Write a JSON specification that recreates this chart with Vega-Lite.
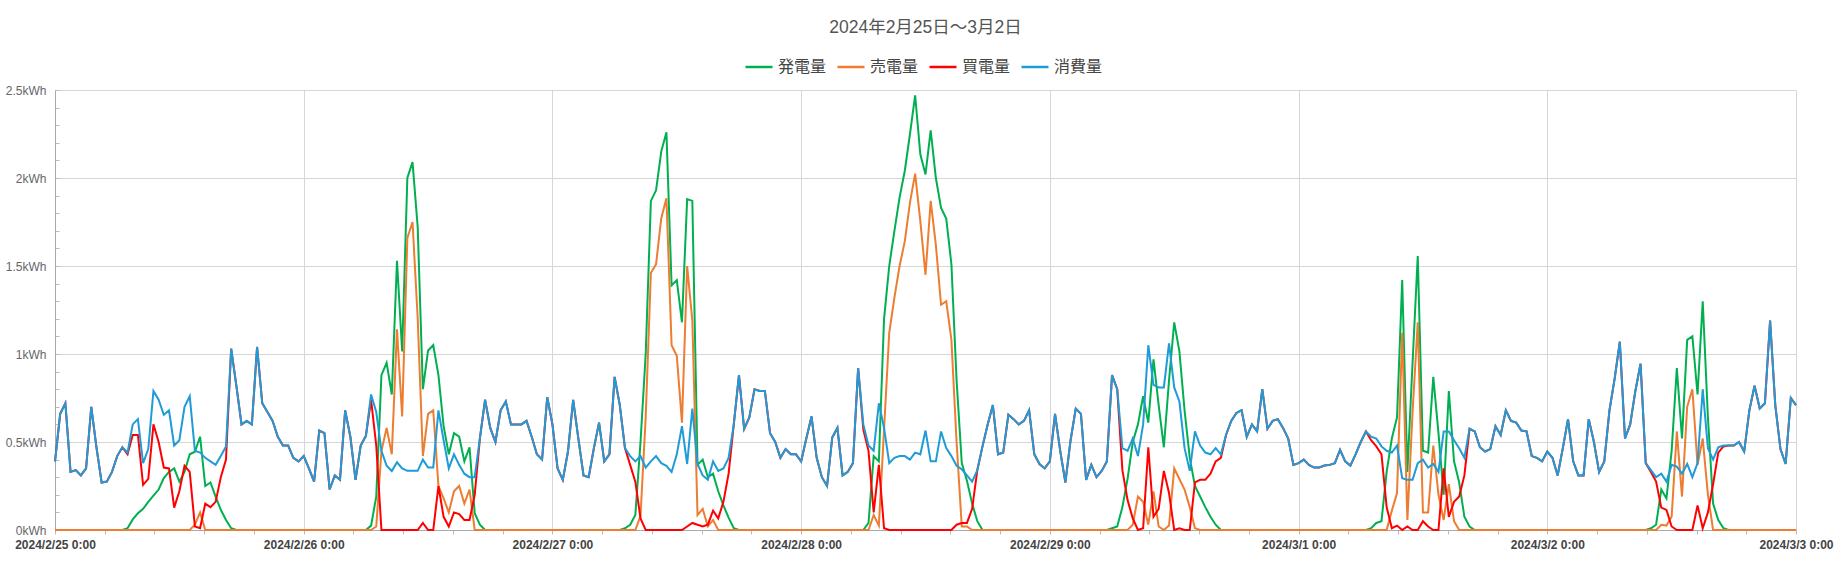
{
  "$schema": "https://vega.github.io/schema/vega-lite/v6.json",
  "width": 1741,
  "height": 440,
  "autosize": {"type": "none"},
  "padding": {"left": 55, "top": 90, "right": 48, "bottom": 31},
  "background": "white",
  "config": {
    "font": "Liberation Sans, Noto Sans CJK JP, sans-serif",
    "view": {"stroke": null}
  },
  "title": {
    "text": "2024年2月25日～3月2日",
    "anchor": "middle",
    "fontSize": 17.5,
    "fontWeight": "normal",
    "color": "#555555",
    "offset": 16
  },
  "data": {"values": [
    {"t":"2024-02-25T00:00","g":0,"s":0,"b":0.39,"c":0.39},
    {"t":"2024-02-25T00:30","g":0,"s":0,"b":0.66,"c":0.66},
    {"t":"2024-02-25T01:00","g":0,"s":0,"b":0.72,"c":0.72},
    {"t":"2024-02-25T01:30","g":0,"s":0,"b":0.33,"c":0.33},
    {"t":"2024-02-25T02:00","g":0,"s":0,"b":0.34,"c":0.34},
    {"t":"2024-02-25T02:30","g":0,"s":0,"b":0.31,"c":0.31},
    {"t":"2024-02-25T03:00","g":0,"s":0,"b":0.35,"c":0.35},
    {"t":"2024-02-25T03:30","g":0,"s":0,"b":0.70,"c":0.70},
    {"t":"2024-02-25T04:00","g":0,"s":0,"b":0.47,"c":0.47},
    {"t":"2024-02-25T04:30","g":0,"s":0,"b":0.27,"c":0.27},
    {"t":"2024-02-25T05:00","g":0,"s":0,"b":0.275,"c":0.275},
    {"t":"2024-02-25T05:30","g":0,"s":0,"b":0.33,"c":0.33},
    {"t":"2024-02-25T06:00","g":0,"s":0,"b":0.42,"c":0.42},
    {"t":"2024-02-25T06:30","g":0,"s":0,"b":0.47,"c":0.47},
    {"t":"2024-02-25T07:00","g":0.01,"s":0,"b":0.43,"c":0.44},
    {"t":"2024-02-25T07:30","g":0.06,"s":0,"b":0.54,"c":0.60},
    {"t":"2024-02-25T08:00","g":0.095,"s":0,"b":0.54,"c":0.63},
    {"t":"2024-02-25T08:30","g":0.12,"s":0,"b":0.256,"c":0.38},
    {"t":"2024-02-25T09:00","g":0.16,"s":0,"b":0.29,"c":0.46},
    {"t":"2024-02-25T09:30","g":0.195,"s":0,"b":0.60,"c":0.79},
    {"t":"2024-02-25T10:00","g":0.23,"s":0,"b":0.50,"c":0.74},
    {"t":"2024-02-25T10:30","g":0.295,"s":0,"b":0.355,"c":0.655},
    {"t":"2024-02-25T11:00","g":0.33,"s":0,"b":0.35,"c":0.68},
    {"t":"2024-02-25T11:30","g":0.35,"s":0,"b":0.127,"c":0.48},
    {"t":"2024-02-25T12:00","g":0.275,"s":0,"b":0.22,"c":0.51},
    {"t":"2024-02-25T12:30","g":0.33,"s":0,"b":0.365,"c":0.70},
    {"t":"2024-02-25T13:00","g":0.43,"s":0,"b":0.33,"c":0.76},
    {"t":"2024-02-25T13:30","g":0.445,"s":0.03,"b":0.02,"c":0.45},
    {"t":"2024-02-25T14:00","g":0.53,"s":0.10,"b":0.01,"c":0.44},
    {"t":"2024-02-25T14:30","g":0.25,"s":0,"b":0.15,"c":0.41},
    {"t":"2024-02-25T15:00","g":0.27,"s":0,"b":0.13,"c":0.39},
    {"t":"2024-02-25T15:30","g":0.19,"s":0,"b":0.16,"c":0.37},
    {"t":"2024-02-25T16:00","g":0.115,"s":0,"b":0.30,"c":0.42},
    {"t":"2024-02-25T16:30","g":0.057,"s":0,"b":0.40,"c":0.475},
    {"t":"2024-02-25T17:00","g":0.01,"s":0,"b":1.03,"c":1.03},
    {"t":"2024-02-25T17:30","g":0,"s":0,"b":0.82,"c":0.82},
    {"t":"2024-02-25T18:00","g":0,"s":0,"b":0.60,"c":0.60},
    {"t":"2024-02-25T18:30","g":0,"s":0,"b":0.62,"c":0.62},
    {"t":"2024-02-25T19:00","g":0,"s":0,"b":0.60,"c":0.60},
    {"t":"2024-02-25T19:30","g":0,"s":0,"b":1.04,"c":1.04},
    {"t":"2024-02-25T20:00","g":0,"s":0,"b":0.72,"c":0.72},
    {"t":"2024-02-25T20:30","g":0,"s":0,"b":0.67,"c":0.67},
    {"t":"2024-02-25T21:00","g":0,"s":0,"b":0.62,"c":0.62},
    {"t":"2024-02-25T21:30","g":0,"s":0,"b":0.53,"c":0.53},
    {"t":"2024-02-25T22:00","g":0,"s":0,"b":0.48,"c":0.48},
    {"t":"2024-02-25T22:30","g":0,"s":0,"b":0.48,"c":0.48},
    {"t":"2024-02-25T23:00","g":0,"s":0,"b":0.41,"c":0.41},
    {"t":"2024-02-25T23:30","g":0,"s":0,"b":0.39,"c":0.39},
    {"t":"2024-02-26T00:00","g":0,"s":0,"b":0.42,"c":0.42},
    {"t":"2024-02-26T00:30","g":0,"s":0,"b":0.35,"c":0.35},
    {"t":"2024-02-26T01:00","g":0,"s":0,"b":0.275,"c":0.275},
    {"t":"2024-02-26T01:30","g":0,"s":0,"b":0.565,"c":0.565},
    {"t":"2024-02-26T02:00","g":0,"s":0,"b":0.55,"c":0.55},
    {"t":"2024-02-26T02:30","g":0,"s":0,"b":0.23,"c":0.23},
    {"t":"2024-02-26T03:00","g":0,"s":0,"b":0.31,"c":0.31},
    {"t":"2024-02-26T03:30","g":0,"s":0,"b":0.285,"c":0.285},
    {"t":"2024-02-26T04:00","g":0,"s":0,"b":0.68,"c":0.68},
    {"t":"2024-02-26T04:30","g":0,"s":0,"b":0.53,"c":0.53},
    {"t":"2024-02-26T05:00","g":0,"s":0,"b":0.285,"c":0.285},
    {"t":"2024-02-26T05:30","g":0,"s":0,"b":0.48,"c":0.48},
    {"t":"2024-02-26T06:00","g":0,"s":0,"b":0.535,"c":0.535},
    {"t":"2024-02-26T06:30","g":0.025,"s":0,"b":0.74,"c":0.77},
    {"t":"2024-02-26T07:00","g":0.19,"s":0.02,"b":0.48,"c":0.67},
    {"t":"2024-02-26T07:30","g":0.88,"s":0.45,"b":0,"c":0.45},
    {"t":"2024-02-26T08:00","g":0.95,"s":0.58,"b":0,"c":0.365},
    {"t":"2024-02-26T08:30","g":0.77,"s":0.43,"b":0,"c":0.335},
    {"t":"2024-02-26T09:00","g":1.53,"s":1.14,"b":0,"c":0.385},
    {"t":"2024-02-26T09:30","g":1.015,"s":0.645,"b":0,"c":0.35},
    {"t":"2024-02-26T10:00","g":2.0,"s":1.66,"b":0,"c":0.336},
    {"t":"2024-02-26T10:30","g":2.09,"s":1.75,"b":0,"c":0.336},
    {"t":"2024-02-26T11:00","g":1.72,"s":1.2,"b":0,"c":0.336},
    {"t":"2024-02-26T11:30","g":0.80,"s":0.42,"b":0.04,"c":0.40},
    {"t":"2024-02-26T12:00","g":1.02,"s":0.66,"b":0,"c":0.355},
    {"t":"2024-02-26T12:30","g":1.05,"s":0.68,"b":0,"c":0.355},
    {"t":"2024-02-26T13:00","g":0.88,"s":0.25,"b":0.25,"c":0.68},
    {"t":"2024-02-26T13:30","g":0.59,"s":0.18,"b":0.075,"c":0.51},
    {"t":"2024-02-26T14:00","g":0.43,"s":0.10,"b":0.02,"c":0.35},
    {"t":"2024-02-26T14:30","g":0.55,"s":0.22,"b":0.10,"c":0.43},
    {"t":"2024-02-26T15:00","g":0.53,"s":0.25,"b":0.09,"c":0.37},
    {"t":"2024-02-26T15:30","g":0.39,"s":0.15,"b":0.057,"c":0.32},
    {"t":"2024-02-26T16:00","g":0.47,"s":0.23,"b":0.057,"c":0.30},
    {"t":"2024-02-26T16:30","g":0.095,"s":0,"b":0.2,"c":0.30},
    {"t":"2024-02-26T17:00","g":0.03,"s":0,"b":0.52,"c":0.52},
    {"t":"2024-02-26T17:30","g":0,"s":0,"b":0.74,"c":0.74},
    {"t":"2024-02-26T18:00","g":0,"s":0,"b":0.58,"c":0.58},
    {"t":"2024-02-26T18:30","g":0,"s":0,"b":0.50,"c":0.50},
    {"t":"2024-02-26T19:00","g":0,"s":0,"b":0.68,"c":0.68},
    {"t":"2024-02-26T19:30","g":0,"s":0,"b":0.73,"c":0.73},
    {"t":"2024-02-26T20:00","g":0,"s":0,"b":0.60,"c":0.60},
    {"t":"2024-02-26T20:30","g":0,"s":0,"b":0.60,"c":0.60},
    {"t":"2024-02-26T21:00","g":0,"s":0,"b":0.60,"c":0.60},
    {"t":"2024-02-26T21:30","g":0,"s":0,"b":0.62,"c":0.62},
    {"t":"2024-02-26T22:00","g":0,"s":0,"b":0.53,"c":0.53},
    {"t":"2024-02-26T22:30","g":0,"s":0,"b":0.43,"c":0.43},
    {"t":"2024-02-26T23:00","g":0,"s":0,"b":0.40,"c":0.40},
    {"t":"2024-02-26T23:30","g":0,"s":0,"b":0.755,"c":0.755},
    {"t":"2024-02-27T00:00","g":0,"s":0,"b":0.60,"c":0.60},
    {"t":"2024-02-27T00:30","g":0,"s":0,"b":0.35,"c":0.35},
    {"t":"2024-02-27T01:00","g":0,"s":0,"b":0.285,"c":0.285},
    {"t":"2024-02-27T01:30","g":0,"s":0,"b":0.446,"c":0.446},
    {"t":"2024-02-27T02:00","g":0,"s":0,"b":0.74,"c":0.74},
    {"t":"2024-02-27T02:30","g":0,"s":0,"b":0.52,"c":0.52},
    {"t":"2024-02-27T03:00","g":0,"s":0,"b":0.31,"c":0.31},
    {"t":"2024-02-27T03:30","g":0,"s":0,"b":0.30,"c":0.30},
    {"t":"2024-02-27T04:00","g":0,"s":0,"b":0.465,"c":0.465},
    {"t":"2024-02-27T04:30","g":0,"s":0,"b":0.61,"c":0.61},
    {"t":"2024-02-27T05:00","g":0,"s":0,"b":0.39,"c":0.39},
    {"t":"2024-02-27T05:30","g":0,"s":0,"b":0.43,"c":0.43},
    {"t":"2024-02-27T06:00","g":0,"s":0,"b":0.87,"c":0.87},
    {"t":"2024-02-27T06:30","g":0,"s":0,"b":0.71,"c":0.71},
    {"t":"2024-02-27T07:00","g":0.01,"s":0,"b":0.465,"c":0.465},
    {"t":"2024-02-27T07:30","g":0.03,"s":0,"b":0.37,"c":0.42},
    {"t":"2024-02-27T08:00","g":0.085,"s":0,"b":0.275,"c":0.39},
    {"t":"2024-02-27T08:30","g":0.5,"s":0.08,"b":0.066,"c":0.42},
    {"t":"2024-02-27T09:00","g":1.0,"s":0.64,"b":0,"c":0.355},
    {"t":"2024-02-27T09:30","g":1.87,"s":1.46,"b":0,"c":0.39},
    {"t":"2024-02-27T10:00","g":1.93,"s":1.51,"b":0,"c":0.42},
    {"t":"2024-02-27T10:30","g":2.15,"s":1.77,"b":0,"c":0.38},
    {"t":"2024-02-27T11:00","g":2.26,"s":1.885,"b":0,"c":0.365},
    {"t":"2024-02-27T11:30","g":1.39,"s":1.05,"b":0,"c":0.33},
    {"t":"2024-02-27T12:00","g":1.42,"s":0.99,"b":0,"c":0.43},
    {"t":"2024-02-27T12:30","g":1.18,"s":0.61,"b":0,"c":0.59},
    {"t":"2024-02-27T13:00","g":1.88,"s":1.5,"b":0.02,"c":0.375},
    {"t":"2024-02-27T13:30","g":1.87,"s":1.19,"b":0.04,"c":0.69},
    {"t":"2024-02-27T14:00","g":0.37,"s":0.085,"b":0.03,"c":0.375},
    {"t":"2024-02-27T14:30","g":0.40,"s":0.12,"b":0.02,"c":0.31},
    {"t":"2024-02-27T15:00","g":0.30,"s":0.02,"b":0.03,"c":0.285},
    {"t":"2024-02-27T15:30","g":0.32,"s":0.057,"b":0.11,"c":0.39},
    {"t":"2024-02-27T16:00","g":0.22,"s":0,"b":0.066,"c":0.336},
    {"t":"2024-02-27T16:30","g":0.14,"s":0,"b":0.16,"c":0.35},
    {"t":"2024-02-27T17:00","g":0.07,"s":0,"b":0.32,"c":0.41},
    {"t":"2024-02-27T17:30","g":0.01,"s":0,"b":0.60,"c":0.60},
    {"t":"2024-02-27T18:00","g":0,"s":0,"b":0.88,"c":0.88},
    {"t":"2024-02-27T18:30","g":0,"s":0,"b":0.575,"c":0.575},
    {"t":"2024-02-27T19:00","g":0,"s":0,"b":0.64,"c":0.64},
    {"t":"2024-02-27T19:30","g":0,"s":0,"b":0.80,"c":0.80},
    {"t":"2024-02-27T20:00","g":0,"s":0,"b":0.79,"c":0.79},
    {"t":"2024-02-27T20:30","g":0,"s":0,"b":0.79,"c":0.79},
    {"t":"2024-02-27T21:00","g":0,"s":0,"b":0.55,"c":0.55},
    {"t":"2024-02-27T21:30","g":0,"s":0,"b":0.50,"c":0.50},
    {"t":"2024-02-27T22:00","g":0,"s":0,"b":0.41,"c":0.41},
    {"t":"2024-02-27T22:30","g":0,"s":0,"b":0.46,"c":0.46},
    {"t":"2024-02-27T23:00","g":0,"s":0,"b":0.43,"c":0.43},
    {"t":"2024-02-27T23:30","g":0,"s":0,"b":0.43,"c":0.43},
    {"t":"2024-02-28T00:00","g":0,"s":0,"b":0.39,"c":0.39},
    {"t":"2024-02-28T00:30","g":0,"s":0,"b":0.52,"c":0.52},
    {"t":"2024-02-28T01:00","g":0,"s":0,"b":0.645,"c":0.645},
    {"t":"2024-02-28T01:30","g":0,"s":0,"b":0.41,"c":0.41},
    {"t":"2024-02-28T02:00","g":0,"s":0,"b":0.30,"c":0.30},
    {"t":"2024-02-28T02:30","g":0,"s":0,"b":0.25,"c":0.25},
    {"t":"2024-02-28T03:00","g":0,"s":0,"b":0.525,"c":0.525},
    {"t":"2024-02-28T03:30","g":0,"s":0,"b":0.58,"c":0.58},
    {"t":"2024-02-28T04:00","g":0,"s":0,"b":0.31,"c":0.31},
    {"t":"2024-02-28T04:30","g":0,"s":0,"b":0.33,"c":0.33},
    {"t":"2024-02-28T05:00","g":0,"s":0,"b":0.38,"c":0.38},
    {"t":"2024-02-28T05:30","g":0,"s":0,"b":0.92,"c":0.92},
    {"t":"2024-02-28T06:00","g":0,"s":0,"b":0.57,"c":0.60},
    {"t":"2024-02-28T06:30","g":0.04,"s":0,"b":0.45,"c":0.48},
    {"t":"2024-02-28T07:00","g":0.42,"s":0.085,"b":0.10,"c":0.45},
    {"t":"2024-02-28T07:30","g":0.39,"s":0.025,"b":0.37,"c":0.72},
    {"t":"2024-02-28T08:00","g":1.2,"s":0.57,"b":0.01,"c":0.58},
    {"t":"2024-02-28T08:30","g":1.5,"s":1.12,"b":0,"c":0.38},
    {"t":"2024-02-28T09:00","g":1.70,"s":1.32,"b":0,"c":0.41},
    {"t":"2024-02-28T09:30","g":1.89,"s":1.5,"b":0,"c":0.42},
    {"t":"2024-02-28T10:00","g":2.04,"s":1.64,"b":0,"c":0.42},
    {"t":"2024-02-28T10:30","g":2.25,"s":1.86,"b":0,"c":0.40},
    {"t":"2024-02-28T11:00","g":2.47,"s":2.025,"b":0,"c":0.44},
    {"t":"2024-02-28T11:30","g":2.135,"s":1.755,"b":0,"c":0.43},
    {"t":"2024-02-28T12:00","g":2.02,"s":1.45,"b":0,"c":0.565},
    {"t":"2024-02-28T12:30","g":2.27,"s":1.87,"b":0,"c":0.39},
    {"t":"2024-02-28T13:00","g":2.0,"s":1.62,"b":0,"c":0.39},
    {"t":"2024-02-28T13:30","g":1.83,"s":1.28,"b":0,"c":0.56},
    {"t":"2024-02-28T14:00","g":1.77,"s":1.30,"b":0,"c":0.465},
    {"t":"2024-02-28T14:30","g":1.51,"s":1.08,"b":0,"c":0.42},
    {"t":"2024-02-28T15:00","g":0.85,"s":0.5,"b":0.03,"c":0.365},
    {"t":"2024-02-28T15:30","g":0.38,"s":0.02,"b":0.04,"c":0.345},
    {"t":"2024-02-28T16:00","g":0.28,"s":0.02,"b":0.04,"c":0.31},
    {"t":"2024-02-28T16:30","g":0.15,"s":0,"b":0.12,"c":0.275},
    {"t":"2024-02-28T17:00","g":0.05,"s":0,"b":0.34,"c":0.34},
    {"t":"2024-02-28T17:30","g":0,"s":0,"b":0.475,"c":0.475},
    {"t":"2024-02-28T18:00","g":0,"s":0,"b":0.60,"c":0.60},
    {"t":"2024-02-28T18:30","g":0,"s":0,"b":0.71,"c":0.71},
    {"t":"2024-02-28T19:00","g":0,"s":0,"b":0.43,"c":0.43},
    {"t":"2024-02-28T19:30","g":0,"s":0,"b":0.44,"c":0.44},
    {"t":"2024-02-28T20:00","g":0,"s":0,"b":0.655,"c":0.655},
    {"t":"2024-02-28T20:30","g":0,"s":0,"b":0.63,"c":0.63},
    {"t":"2024-02-28T21:00","g":0,"s":0,"b":0.60,"c":0.60},
    {"t":"2024-02-28T21:30","g":0,"s":0,"b":0.62,"c":0.62},
    {"t":"2024-02-28T22:00","g":0,"s":0,"b":0.68,"c":0.68},
    {"t":"2024-02-28T22:30","g":0,"s":0,"b":0.43,"c":0.43},
    {"t":"2024-02-28T23:00","g":0,"s":0,"b":0.375,"c":0.375},
    {"t":"2024-02-28T23:30","g":0,"s":0,"b":0.35,"c":0.35},
    {"t":"2024-02-29T00:00","g":0,"s":0,"b":0.39,"c":0.39},
    {"t":"2024-02-29T00:30","g":0,"s":0,"b":0.66,"c":0.66},
    {"t":"2024-02-29T01:00","g":0,"s":0,"b":0.45,"c":0.45},
    {"t":"2024-02-29T01:30","g":0,"s":0,"b":0.27,"c":0.27},
    {"t":"2024-02-29T02:00","g":0,"s":0,"b":0.51,"c":0.51},
    {"t":"2024-02-29T02:30","g":0,"s":0,"b":0.69,"c":0.69},
    {"t":"2024-02-29T03:00","g":0,"s":0,"b":0.66,"c":0.66},
    {"t":"2024-02-29T03:30","g":0,"s":0,"b":0.285,"c":0.285},
    {"t":"2024-02-29T04:00","g":0,"s":0,"b":0.37,"c":0.37},
    {"t":"2024-02-29T04:30","g":0,"s":0,"b":0.30,"c":0.30},
    {"t":"2024-02-29T05:00","g":0,"s":0,"b":0.336,"c":0.336},
    {"t":"2024-02-29T05:30","g":0,"s":0,"b":0.39,"c":0.39},
    {"t":"2024-02-29T06:00","g":0.01,"s":0,"b":0.88,"c":0.88},
    {"t":"2024-02-29T06:30","g":0.02,"s":0,"b":0.80,"c":0.80},
    {"t":"2024-02-29T07:00","g":0.13,"s":0,"b":0.34,"c":0.465},
    {"t":"2024-02-29T07:30","g":0.29,"s":0,"b":0.17,"c":0.45},
    {"t":"2024-02-29T08:00","g":0.50,"s":0.03,"b":0.066,"c":0.52},
    {"t":"2024-02-29T08:30","g":0.60,"s":0.19,"b":0,"c":0.42},
    {"t":"2024-02-29T09:00","g":0.76,"s":0.16,"b":0.01,"c":0.60},
    {"t":"2024-02-29T09:30","g":0.61,"s":0.03,"b":0.47,"c":1.05},
    {"t":"2024-02-29T10:00","g":0.97,"s":0.22,"b":0.075,"c":0.825},
    {"t":"2024-02-29T10:30","g":0.71,"s":0.02,"b":0.12,"c":0.81},
    {"t":"2024-02-29T11:00","g":0.47,"s":0,"b":0.336,"c":0.81},
    {"t":"2024-02-29T11:30","g":0.85,"s":0.025,"b":0.21,"c":1.06},
    {"t":"2024-02-29T12:00","g":1.18,"s":0.35,"b":0,"c":0.81},
    {"t":"2024-02-29T12:30","g":1.015,"s":0.29,"b":0.01,"c":0.73},
    {"t":"2024-02-29T13:00","g":0.68,"s":0.23,"b":0,"c":0.465},
    {"t":"2024-02-29T13:30","g":0.41,"s":0.13,"b":0,"c":0.336},
    {"t":"2024-02-29T14:00","g":0.25,"s":0.01,"b":0.27,"c":0.56},
    {"t":"2024-02-29T14:30","g":0.19,"s":0,"b":0.285,"c":0.48},
    {"t":"2024-02-29T15:00","g":0.13,"s":0,"b":0.285,"c":0.44},
    {"t":"2024-02-29T15:30","g":0.075,"s":0,"b":0.32,"c":0.43},
    {"t":"2024-02-29T16:00","g":0.03,"s":0,"b":0.39,"c":0.465},
    {"t":"2024-02-29T16:30","g":0,"s":0,"b":0.41,"c":0.43},
    {"t":"2024-02-29T17:00","g":0,"s":0,"b":0.54,"c":0.54},
    {"t":"2024-02-29T17:30","g":0,"s":0,"b":0.62,"c":0.62},
    {"t":"2024-02-29T18:00","g":0,"s":0,"b":0.665,"c":0.665},
    {"t":"2024-02-29T18:30","g":0,"s":0,"b":0.68,"c":0.68},
    {"t":"2024-02-29T19:00","g":0,"s":0,"b":0.53,"c":0.53},
    {"t":"2024-02-29T19:30","g":0,"s":0,"b":0.60,"c":0.60},
    {"t":"2024-02-29T20:00","g":0,"s":0,"b":0.56,"c":0.56},
    {"t":"2024-02-29T20:30","g":0,"s":0,"b":0.80,"c":0.80},
    {"t":"2024-02-29T21:00","g":0,"s":0,"b":0.575,"c":0.575},
    {"t":"2024-02-29T21:30","g":0,"s":0,"b":0.62,"c":0.62},
    {"t":"2024-02-29T22:00","g":0,"s":0,"b":0.63,"c":0.63},
    {"t":"2024-02-29T22:30","g":0,"s":0,"b":0.58,"c":0.58},
    {"t":"2024-02-29T23:00","g":0,"s":0,"b":0.52,"c":0.52},
    {"t":"2024-02-29T23:30","g":0,"s":0,"b":0.37,"c":0.37},
    {"t":"2024-03-01T00:00","g":0,"s":0,"b":0.38,"c":0.38},
    {"t":"2024-03-01T00:30","g":0,"s":0,"b":0.40,"c":0.40},
    {"t":"2024-03-01T01:00","g":0,"s":0,"b":0.37,"c":0.37},
    {"t":"2024-03-01T01:30","g":0,"s":0,"b":0.355,"c":0.355},
    {"t":"2024-03-01T02:00","g":0,"s":0,"b":0.355,"c":0.355},
    {"t":"2024-03-01T02:30","g":0,"s":0,"b":0.366,"c":0.366},
    {"t":"2024-03-01T03:00","g":0,"s":0,"b":0.37,"c":0.37},
    {"t":"2024-03-01T03:30","g":0,"s":0,"b":0.38,"c":0.38},
    {"t":"2024-03-01T04:00","g":0,"s":0,"b":0.455,"c":0.455},
    {"t":"2024-03-01T04:30","g":0,"s":0,"b":0.39,"c":0.39},
    {"t":"2024-03-01T05:00","g":0,"s":0,"b":0.366,"c":0.366},
    {"t":"2024-03-01T05:30","g":0,"s":0,"b":0.43,"c":0.43},
    {"t":"2024-03-01T06:00","g":0,"s":0,"b":0.50,"c":0.50},
    {"t":"2024-03-01T06:30","g":0,"s":0,"b":0.56,"c":0.56},
    {"t":"2024-03-01T07:00","g":0.01,"s":0,"b":0.51,"c":0.53},
    {"t":"2024-03-01T07:30","g":0.04,"s":0,"b":0.475,"c":0.52},
    {"t":"2024-03-01T08:00","g":0.05,"s":0,"b":0.43,"c":0.475},
    {"t":"2024-03-01T08:30","g":0.33,"s":0,"b":0.13,"c":0.45},
    {"t":"2024-03-01T09:00","g":0.52,"s":0.11,"b":0.01,"c":0.44},
    {"t":"2024-03-01T09:30","g":0.64,"s":0.21,"b":0.025,"c":0.48},
    {"t":"2024-03-01T10:00","g":1.42,"s":1.12,"b":0,"c":0.294},
    {"t":"2024-03-01T10:30","g":0.33,"s":0.057,"b":0.02,"c":0.285},
    {"t":"2024-03-01T11:00","g":0.95,"s":0.67,"b":0,"c":0.285},
    {"t":"2024-03-01T11:30","g":1.556,"s":1.18,"b":0,"c":0.38},
    {"t":"2024-03-01T12:00","g":0.45,"s":0.10,"b":0.05,"c":0.40},
    {"t":"2024-03-01T12:30","g":0.44,"s":0.10,"b":0.02,"c":0.355},
    {"t":"2024-03-01T13:00","g":0.87,"s":0.48,"b":0,"c":0.375},
    {"t":"2024-03-01T13:30","g":0.55,"s":0.2,"b":0,"c":0.33},
    {"t":"2024-03-01T14:00","g":0.2,"s":0.057,"b":0.35,"c":0.56},
    {"t":"2024-03-01T14:30","g":0.79,"s":0.26,"b":0.075,"c":0.56},
    {"t":"2024-03-01T15:00","g":0.39,"s":0.05,"b":0.16,"c":0.51},
    {"t":"2024-03-01T15:30","g":0.27,"s":0,"b":0.19,"c":0.465},
    {"t":"2024-03-01T16:00","g":0.075,"s":0,"b":0.31,"c":0.41},
    {"t":"2024-03-01T16:30","g":0.02,"s":0,"b":0.575,"c":0.575},
    {"t":"2024-03-01T17:00","g":0,"s":0,"b":0.56,"c":0.56},
    {"t":"2024-03-01T17:30","g":0,"s":0,"b":0.47,"c":0.47},
    {"t":"2024-03-01T18:00","g":0,"s":0,"b":0.446,"c":0.446},
    {"t":"2024-03-01T18:30","g":0,"s":0,"b":0.46,"c":0.46},
    {"t":"2024-03-01T19:00","g":0,"s":0,"b":0.59,"c":0.59},
    {"t":"2024-03-01T19:30","g":0,"s":0,"b":0.54,"c":0.54},
    {"t":"2024-03-01T20:00","g":0,"s":0,"b":0.68,"c":0.68},
    {"t":"2024-03-01T20:30","g":0,"s":0,"b":0.62,"c":0.62},
    {"t":"2024-03-01T21:00","g":0,"s":0,"b":0.61,"c":0.61},
    {"t":"2024-03-01T21:30","g":0,"s":0,"b":0.565,"c":0.565},
    {"t":"2024-03-01T22:00","g":0,"s":0,"b":0.56,"c":0.56},
    {"t":"2024-03-01T22:30","g":0,"s":0,"b":0.42,"c":0.42},
    {"t":"2024-03-01T23:00","g":0,"s":0,"b":0.41,"c":0.41},
    {"t":"2024-03-01T23:30","g":0,"s":0,"b":0.39,"c":0.39},
    {"t":"2024-03-02T00:00","g":0,"s":0,"b":0.446,"c":0.446},
    {"t":"2024-03-02T00:30","g":0,"s":0,"b":0.41,"c":0.41},
    {"t":"2024-03-02T01:00","g":0,"s":0,"b":0.31,"c":0.31},
    {"t":"2024-03-02T01:30","g":0,"s":0,"b":0.465,"c":0.465},
    {"t":"2024-03-02T02:00","g":0,"s":0,"b":0.63,"c":0.63},
    {"t":"2024-03-02T02:30","g":0,"s":0,"b":0.39,"c":0.39},
    {"t":"2024-03-02T03:00","g":0,"s":0,"b":0.31,"c":0.31},
    {"t":"2024-03-02T03:30","g":0,"s":0,"b":0.31,"c":0.31},
    {"t":"2024-03-02T04:00","g":0,"s":0,"b":0.63,"c":0.63},
    {"t":"2024-03-02T04:30","g":0,"s":0,"b":0.50,"c":0.50},
    {"t":"2024-03-02T05:00","g":0,"s":0,"b":0.33,"c":0.33},
    {"t":"2024-03-02T05:30","g":0,"s":0,"b":0.39,"c":0.39},
    {"t":"2024-03-02T06:00","g":0,"s":0,"b":0.68,"c":0.68},
    {"t":"2024-03-02T06:30","g":0,"s":0,"b":0.86,"c":0.86},
    {"t":"2024-03-02T07:00","g":0,"s":0,"b":1.07,"c":1.07},
    {"t":"2024-03-02T07:30","g":0,"s":0,"b":0.52,"c":0.52},
    {"t":"2024-03-02T08:00","g":0,"s":0,"b":0.60,"c":0.60},
    {"t":"2024-03-02T08:30","g":0,"s":0,"b":0.79,"c":0.79},
    {"t":"2024-03-02T09:00","g":0,"s":0,"b":0.945,"c":0.945},
    {"t":"2024-03-02T09:30","g":0,"s":0,"b":0.38,"c":0.38},
    {"t":"2024-03-02T10:00","g":0.01,"s":0,"b":0.33,"c":0.34},
    {"t":"2024-03-02T10:30","g":0.03,"s":0,"b":0.275,"c":0.30},
    {"t":"2024-03-02T11:00","g":0.23,"s":0.03,"b":0.127,"c":0.32},
    {"t":"2024-03-02T11:30","g":0.18,"s":0.025,"b":0.114,"c":0.275},
    {"t":"2024-03-02T12:00","g":0.45,"s":0.075,"b":0.02,"c":0.37},
    {"t":"2024-03-02T12:30","g":0.92,"s":0.56,"b":0,"c":0.36},
    {"t":"2024-03-02T13:00","g":0.52,"s":0.19,"b":0,"c":0.32},
    {"t":"2024-03-02T13:30","g":1.08,"s":0.70,"b":0,"c":0.375},
    {"t":"2024-03-02T14:00","g":1.10,"s":0.80,"b":0,"c":0.30},
    {"t":"2024-03-02T14:30","g":0.77,"s":0.37,"b":0.14,"c":0.38},
    {"t":"2024-03-02T15:00","g":1.30,"s":0.52,"b":0.01,"c":0.80},
    {"t":"2024-03-02T15:30","g":0.64,"s":0.2,"b":0.10,"c":0.465},
    {"t":"2024-03-02T16:00","g":0.15,"s":0,"b":0.26,"c":0.40},
    {"t":"2024-03-02T16:30","g":0.057,"s":0,"b":0.44,"c":0.47},
    {"t":"2024-03-02T17:00","g":0.01,"s":0,"b":0.475,"c":0.48},
    {"t":"2024-03-02T17:30","g":0,"s":0,"b":0.48,"c":0.48},
    {"t":"2024-03-02T18:00","g":0,"s":0,"b":0.48,"c":0.48},
    {"t":"2024-03-02T18:30","g":0,"s":0,"b":0.50,"c":0.50},
    {"t":"2024-03-02T19:00","g":0,"s":0,"b":0.446,"c":0.446},
    {"t":"2024-03-02T19:30","g":0,"s":0,"b":0.68,"c":0.68},
    {"t":"2024-03-02T20:00","g":0,"s":0,"b":0.82,"c":0.82},
    {"t":"2024-03-02T20:30","g":0,"s":0,"b":0.69,"c":0.69},
    {"t":"2024-03-02T21:00","g":0,"s":0,"b":0.72,"c":0.72},
    {"t":"2024-03-02T21:30","g":0,"s":0,"b":1.19,"c":1.19},
    {"t":"2024-03-02T22:00","g":0,"s":0,"b":0.71,"c":0.71},
    {"t":"2024-03-02T22:30","g":0,"s":0,"b":0.46,"c":0.46},
    {"t":"2024-03-02T23:00","g":0,"s":0,"b":0.375,"c":0.375},
    {"t":"2024-03-02T23:30","g":0,"s":0,"b":0.75,"c":0.75},
    {"t":"2024-03-03T00:00","g":0,"s":0,"b":0.71,"c":0.71}
  ]},
  "transform": [{"fold": ["g", "s", "b", "c"], "as": ["k", "v"]}],
  "encoding": {
    "x": {
      "field": "t",
      "type": "temporal",
      "title": null,
      "scale": {
        "domain": [
          {"year": 2024, "month": 2, "date": 25},
          {"year": 2024, "month": 3, "date": 3}
        ],
        "nice": false
      },
      "axis": {
        "values": [
          {"year":2024,"month":2,"date":25,"hours":0,"minutes":0},
          {"year":2024,"month":2,"date":25,"hours":4,"minutes":48},
          {"year":2024,"month":2,"date":25,"hours":9,"minutes":36},
          {"year":2024,"month":2,"date":25,"hours":14,"minutes":24},
          {"year":2024,"month":2,"date":25,"hours":19,"minutes":12},
          {"year":2024,"month":2,"date":26,"hours":0,"minutes":0},
          {"year":2024,"month":2,"date":26,"hours":4,"minutes":48},
          {"year":2024,"month":2,"date":26,"hours":9,"minutes":36},
          {"year":2024,"month":2,"date":26,"hours":14,"minutes":24},
          {"year":2024,"month":2,"date":26,"hours":19,"minutes":12},
          {"year":2024,"month":2,"date":27,"hours":0,"minutes":0},
          {"year":2024,"month":2,"date":27,"hours":4,"minutes":48},
          {"year":2024,"month":2,"date":27,"hours":9,"minutes":36},
          {"year":2024,"month":2,"date":27,"hours":14,"minutes":24},
          {"year":2024,"month":2,"date":27,"hours":19,"minutes":12},
          {"year":2024,"month":2,"date":28,"hours":0,"minutes":0},
          {"year":2024,"month":2,"date":28,"hours":4,"minutes":48},
          {"year":2024,"month":2,"date":28,"hours":9,"minutes":36},
          {"year":2024,"month":2,"date":28,"hours":14,"minutes":24},
          {"year":2024,"month":2,"date":28,"hours":19,"minutes":12},
          {"year":2024,"month":2,"date":29,"hours":0,"minutes":0},
          {"year":2024,"month":2,"date":29,"hours":4,"minutes":48},
          {"year":2024,"month":2,"date":29,"hours":9,"minutes":36},
          {"year":2024,"month":2,"date":29,"hours":14,"minutes":24},
          {"year":2024,"month":2,"date":29,"hours":19,"minutes":12},
          {"year":2024,"month":3,"date":1,"hours":0,"minutes":0},
          {"year":2024,"month":3,"date":1,"hours":4,"minutes":48},
          {"year":2024,"month":3,"date":1,"hours":9,"minutes":36},
          {"year":2024,"month":3,"date":1,"hours":14,"minutes":24},
          {"year":2024,"month":3,"date":1,"hours":19,"minutes":12},
          {"year":2024,"month":3,"date":2,"hours":0,"minutes":0},
          {"year":2024,"month":3,"date":2,"hours":4,"minutes":48},
          {"year":2024,"month":3,"date":2,"hours":9,"minutes":36},
          {"year":2024,"month":3,"date":2,"hours":14,"minutes":24},
          {"year":2024,"month":3,"date":2,"hours":19,"minutes":12},
          {"year":2024,"month":3,"date":3,"hours":0,"minutes":0}
        ],
        "labelExpr": "hours(datum.value) == 0 && minutes(datum.value) == 0 ? timeFormat(datum.value, '%Y/%-m/%-d %-H:%M') : ''",
        "labelOverlap": false,
        "labelFlush": false,
        "labelFontSize": 12,
        "labelFontWeight": "bold",
        "labelColor": "#444444",
        "labelPadding": 5,
        "tickSize": 4,
        "tickColor": "#bbbbbb",
        "domainColor": "#aaaaaa",
        "grid": true,
        "gridColor": "#d6d6d6",
        "gridOpacity": {"condition": {"test": "hours(datum.value) != 0 || minutes(datum.value) != 0", "value": 0}, "value": 1}
      }
    },
    "y": {
      "field": "v",
      "type": "quantitative",
      "title": null,
      "scale": {"domain": [0, 2.5], "nice": false},
      "axis": {
        "values": [0,0.1,0.2,0.3,0.4,0.5,0.6,0.7,0.8,0.9,1,1.1,1.2,1.3,1.4,1.5,1.6,1.7,1.8,1.9,2,2.1,2.2,2.3,2.4,2.5],
        "labelExpr": "round(datum.value * 10) % 5 == 0 ? datum.value + 'kWh' : ''",
        "labelOverlap": false,
        "labelFlush": false,
        "labelFontSize": 12,
        "labelColor": "#666666",
        "labelPadding": 13,
        "tickSize": -4,
        "tickColor": "#bbbbbb",
        "domainColor": "#aaaaaa",
        "grid": true,
        "gridColor": "#d6d6d6",
        "gridOpacity": {"condition": {"test": "round(datum.value * 10) % 5 != 0", "value": 0}, "value": 1}
      }
    }
  },
  "layer": [
    {
      "transform": [{"filter": "datum.k == 'g'"}],
      "mark": {"type": "line", "strokeWidth": 2},
      "encoding": {
        "color": {
          "datum": "発電量",
          "scale": {
            "domain": ["発電量", "売電量", "買電量", "消費量"],
            "range": ["#00b050", "#ed7d31", "#ff0000", "#1f9bd7"]
          },
          "legend": {
            "orient": "none",
            "legendX": 689,
            "legendY": -38,
            "direction": "horizontal",
            "title": null,
            "symbolType": "stroke",
            "symbolSize": 729,
            "symbolStrokeWidth": 2.5,
            "labelFontSize": 16,
            "labelColor": "#444444",
            "labelOffset": 4,
            "columnPadding": 5
          }
        }
      }
    },
    {
      "transform": [{"filter": "datum.k == 's'"}],
      "mark": {"type": "line", "strokeWidth": 2},
      "encoding": {"color": {"datum": "売電量"}}
    },
    {
      "transform": [{"filter": "datum.k == 'b'"}],
      "mark": {"type": "line", "strokeWidth": 2},
      "encoding": {"color": {"datum": "買電量"}}
    },
    {
      "transform": [{"filter": "datum.k == 'c'"}],
      "mark": {"type": "line", "strokeWidth": 2},
      "encoding": {"color": {"datum": "消費量"}}
    }
  ]
}
